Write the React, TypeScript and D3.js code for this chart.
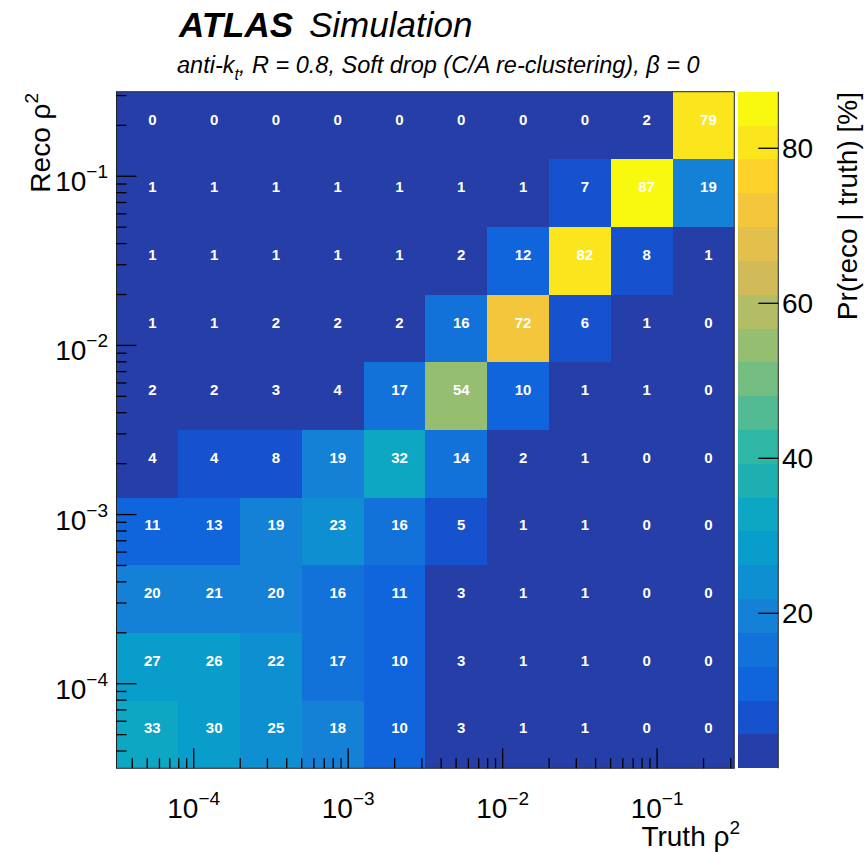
import React from "react";
import * as d3 from "d3";

// Bin edges (log10 of rho^2) for truth (x) and reco (y) axes
const truthEdgeExp = [-4.5, -4.1, -3.7, -3.3, -2.9, -2.5, -2.1, -1.7, -1.3, -0.9, -0.5];
const recoEdgeExp = [-4.5, -4.1, -3.7, -3.3, -2.9, -2.5, -2.1, -1.7, -1.3, -0.9, -0.5];

// Migration probabilities Pr(reco | truth) in %, one array per reco bin (lowest first),
// entries ordered by truth bin
const recoBin0 = [33, 30, 25, 18, 10, 3, 1, 1, 0, 0];
const recoBin1 = [27, 26.3, 22, 17, 10, 3, 1, 1, 0, 0];
const recoBin2 = [20, 21, 20, 16, 11, 3, 1, 1, 0, 0];
const recoBin3 = [11, 13, 19, 23, 16, 5, 1, 1, 0, 0];
const recoBin4 = [4, 4.4, 8, 19, 32, 14, 2, 1, 0, 0];
const recoBin5 = [2, 2, 3, 4, 17, 54, 10, 1, 1, 0];
const recoBin6 = [1, 1, 2, 2, 2, 16, 72, 6, 1, 0];
const recoBin7 = [1, 1, 1, 1, 1, 2, 12, 82, 8, 1];
const recoBin8 = [1, 1, 1, 1, 1, 1, 1, 7, 87.3, 19];
const recoBin9 = [0, 0, 0, 0, 0, 0, 0, 0, 2, 79];
const recoBins = [recoBin0, recoBin1, recoBin2, recoBin3, recoBin4, recoBin5, recoBin6, recoBin7, recoBin8, recoBin9];

const paletteTicks = [20, 40, 60, 80];
const nLevels = 20;

// kBird palette stops
const birdStops = [0, 0.125, 0.25, 0.375, 0.5, 0.625, 0.75, 0.875, 1];
const birdR = [0.2082, 0.0592, 0.078, 0.0232, 0.1802, 0.5301, 0.8186, 0.9956, 0.9764];
const birdG = [0.1664, 0.3599, 0.5041, 0.6419, 0.7178, 0.7492, 0.7328, 0.7862, 0.9832];
const birdB = [0.5293, 0.8684, 0.8385, 0.7914, 0.6425, 0.4662, 0.3499, 0.1968, 0.0539];

function buildPalette(n: number): string[] {
  const cols: string[] = [];
  for (let g = 0; g < birdStops.length - 1; g++) {
    const k = Math.floor(birdStops[g + 1] * n) - Math.floor(birdStops[g] * n);
    for (let c = 0; c < k; c++) {
      const f = c / k;
      const r = birdR[g] + (birdR[g + 1] - birdR[g]) * f;
      const gg = birdG[g] + (birdG[g + 1] - birdG[g]) * f;
      const b = birdB[g] + (birdB[g + 1] - birdB[g]) * f;
      cols.push(d3.rgb(r * 255, gg * 255, b * 255).formatHex());
    }
  }
  return cols;
}

const palette = buildPalette(255);
const levelColor = (lvl: number) => {
  let idx = Math.floor(((lvl + 0.99) * palette.length) / nLevels);
  if (idx > palette.length - 1) idx = palette.length - 1;
  return palette[idx];
};

const FONT = "'Liberation Sans', Arial, Helvetica, sans-serif";

const W = 866;
const H = 852;
const L = 116.5;
const R = 734.3;
const T = 91.7;
const B = 768.3;
const CBL = 737.7;
const CBR = 778.3;

export default function App() {
  const x = d3.scaleLog().domain([10 ** truthEdgeExp[0], 10 ** truthEdgeExp[truthEdgeExp.length - 1]]).range([L, R]);
  const y = d3.scaleLog().domain([10 ** recoEdgeExp[0], 10 ** recoEdgeExp[recoEdgeExp.length - 1]]).range([B, T]);
  const zmax = d3.max(recoBins.flat()) as number;
  const z = d3.scaleLinear().domain([0, zmax]).range([B, T]);
  const levelOf = (v: number) => {
    const l = Math.floor(0.01 + (v * nLevels) / zmax);
    return Math.min(Math.max(l, 0), nLevels - 1);
  };

  const isMajor = (t: number) => Math.abs(Math.log10(t) - Math.round(Math.log10(t))) < 1e-9;
  const xTicks = x.ticks();
  const yTicks = y.ticks();

  const cells: React.ReactNode[] = [];
  recoBins.forEach((row, j) => {
    const y0 = Math.round(y(10 ** recoEdgeExp[j]));
    const y1 = Math.round(y(10 ** recoEdgeExp[j + 1]));
    row.forEach((v, i) => {
      const x0 = Math.round(x(10 ** truthEdgeExp[i]));
      const x1 = Math.round(x(10 ** truthEdgeExp[i + 1]));
      cells.push(
        <rect key={`c${i}-${j}`} x={x0} y={y1} width={x1 - x0} height={y0 - y1} fill={levelColor(levelOf(v))} />
      );
    });
  });

  const labels: React.ReactNode[] = [];
  recoBins.forEach((row, j) => {
    const cy = (y(10 ** recoEdgeExp[j]) + y(10 ** recoEdgeExp[j + 1])) / 2;
    row.forEach((v, i) => {
      const cx = (x(10 ** truthEdgeExp[i]) + x(10 ** truthEdgeExp[i + 1])) / 2;
      labels.push(
        <text key={`t${i}-${j}`} x={cx + 5} y={cy - 6.5} fill="#fff" fontSize={15} fontWeight="bold"
          textAnchor="middle" dominantBaseline="central" fontFamily={FONT}>
          {Math.round(v)}
        </text>
      );
    });
  });

  const levels = d3.range(nLevels);

  return (
    <div style={{ position: "absolute", left: 0, top: 0 }}>
      <svg width={W} height={H} viewBox={`0 0 ${W} ${H}`} style={{ display: "block", background: "#fff" }}>
        {/* header */}
        <text x={179} y={37} fontFamily={FONT} fontSize={35} fontStyle="italic" fontWeight="bold" fill="#000">ATLAS</text>
        <text x={309} y={37} fontFamily={FONT} fontSize={35} fontStyle="italic" fill="#000">Simulation</text>
        <text x={177} y={73} fontFamily={FONT} fontSize={23.5} fontStyle="italic" fill="#000">
          anti-k<tspan fontSize={16} dy={7}>t</tspan>
          <tspan dy={-7}>, R = 0.8, Soft drop (C/A re-clustering), β = 0</tspan>
        </text>

        {/* heat map */}
        <g shapeRendering="crispEdges">{cells}</g>
        <g>{labels}</g>
        <rect x={L} y={T} width={R - L} height={B - T} fill="none" stroke="#222" strokeWidth={1} />

        {/* x axis ticks */}
        {xTicks.map((t, k) => (
          <line key={`xt${k}`} x1={x(t)} x2={x(t)} y1={B} y2={B - (isMajor(t) ? 20 : 10)} stroke="#000" strokeWidth={1.3} />
        ))}
        {xTicks.filter(isMajor).map((t, k) => (
          <text key={`xl${k}`} x={x(t)} y={818} textAnchor="middle" fontFamily={FONT} fontSize={28} fill="#000">
            10<tspan fontSize={19} dy={-13}>{`−${Math.round(-Math.log10(t))}`}</tspan>
          </text>
        ))}
        <text x={740} y={846} textAnchor="end" fontFamily={FONT} fontSize={28} fill="#000">
          Truth ρ<tspan fontSize={19} dy={-12}>2</tspan>
        </text>

        {/* y axis ticks */}
        {yTicks.map((t, k) => (
          <line key={`yt${k}`} x1={L} x2={L + (isMajor(t) ? 20 : 10)} y1={y(t)} y2={y(t)} stroke="#000" strokeWidth={1.3} />
        ))}
        {yTicks.filter(isMajor).map((t, k) => (
          <text key={`yl${k}`} x={108} y={y(t) + 15} textAnchor="end" fontFamily={FONT} fontSize={28} fill="#000">
            10<tspan fontSize={19} dy={-13}>{`−${Math.round(-Math.log10(t))}`}</tspan>
          </text>
        ))}
        <text transform={`translate(50,93) rotate(-90)`} textAnchor="end" fontFamily={FONT} fontSize={28} fill="#000">
          Reco ρ<tspan fontSize={19} dy={-12}>2</tspan>
        </text>

        {/* palette */}
        <g shapeRendering="crispEdges">
          {levels.map((l) => {
            const top = Math.round(z(((l + 1) * zmax) / nLevels));
            const bot = Math.round(z((l * zmax) / nLevels));
            return <rect key={`p${l}`} x={CBL} y={top} width={CBR - CBL} height={bot - top} fill={levelColor(l)} />;
          })}
        </g>
        <line x1={CBR} x2={CBR} y1={T} y2={B} stroke="#222" strokeWidth={1} />
        {paletteTicks.map((v) => (
          <g key={`pt${v}`}>
            <line x1={CBR - 20} x2={CBR} y1={z(v)} y2={z(v)} stroke="#000" strokeWidth={1.3} />
            <text x={782} y={z(v) + 10} fontFamily={FONT} fontSize={28} fill="#000">{v}</text>
          </g>
        ))}
        <text transform={`translate(857,92) rotate(-90)`} textAnchor="end" fontFamily={FONT} fontSize={28} fill="#000">
          Pr(reco | truth) [%]
        </text>
      </svg>
    </div>
  );
}
